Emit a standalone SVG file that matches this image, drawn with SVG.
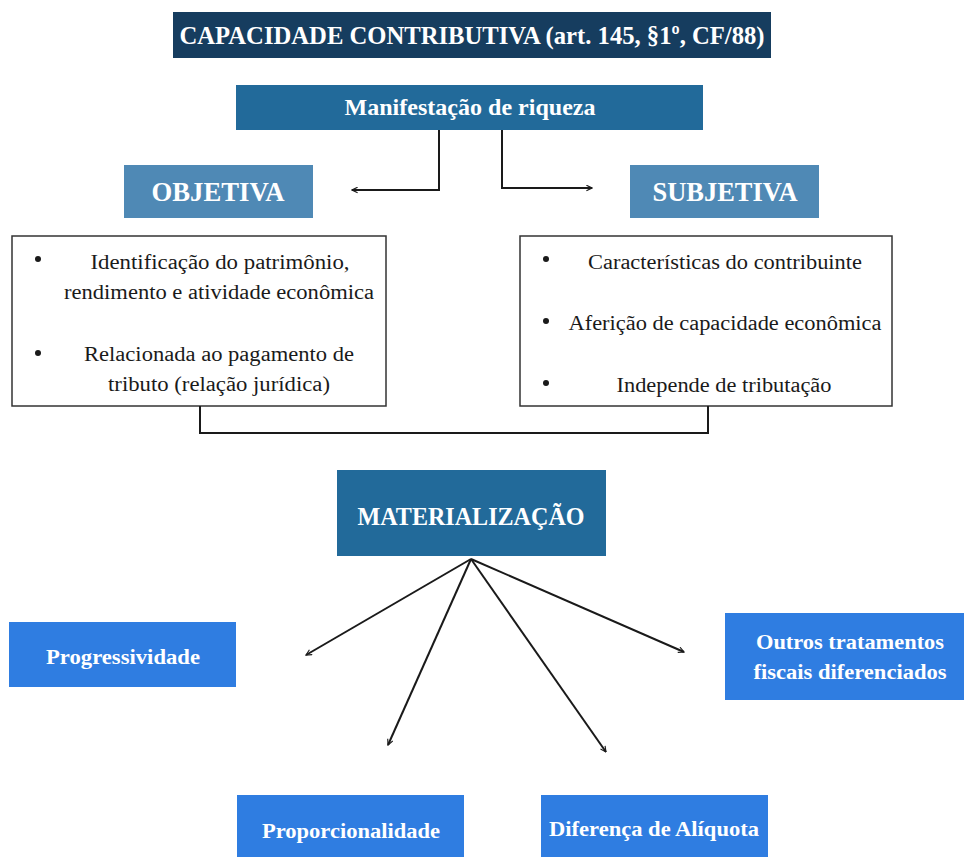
<svg xmlns="http://www.w3.org/2000/svg" width="964" height="857" viewBox="0 0 964 857">
<defs>
<style>
text{font-family:'Liberation Serif',serif;}
.hd{font-weight:bold;fill:#ffffff;}
.bd{fill:#1a1a1a;font-size:20px;}
.ln{fill:none;stroke:#1a1a1a;stroke-width:2;}
.box{fill:#ffffff;stroke:#333333;stroke-width:1.5;}
</style>
<marker id="ah" viewBox="0 0 10 10" refX="9" refY="5" markerWidth="7" markerHeight="7" markerUnits="userSpaceOnUse" orient="auto">
<path d="M1,1 L9,5 L1,9" fill="none" stroke="#1a1a1a" stroke-width="1.6"/>
</marker>
</defs>
<rect width="964" height="857" fill="#ffffff"/>
<g id="title">
<rect x="173" y="12" width="598" height="46" fill="#163d5f"/>
<text class="hd" x="472" y="44" font-size="26" text-anchor="middle" textLength="585" lengthAdjust="spacingAndGlyphs">CAPACIDADE CONTRIBUTIVA (art. 145, §1º, CF/88)</text>
</g>
<g id="manifestacao">
<rect x="236" y="85" width="467" height="45" fill="#226a9a"/>
<text class="hd" x="470" y="115" font-size="23" text-anchor="middle" textLength="251" lengthAdjust="spacingAndGlyphs">Manifestação de riqueza</text>
</g>
<g id="objetiva">
<rect x="124" y="165" width="189" height="53" fill="#4f89b5"/>
<text class="hd" x="218" y="201" font-size="27" text-anchor="middle" textLength="133" lengthAdjust="spacingAndGlyphs">OBJETIVA</text>
</g>
<g id="subjetiva">
<rect x="630" y="165" width="189" height="53" fill="#4f89b5"/>
<text class="hd" x="725" y="201" font-size="27" text-anchor="middle" textLength="145" lengthAdjust="spacingAndGlyphs">SUBJETIVA</text>
</g>
<g id="objetiva-list">
<rect class="box" x="12" y="236" width="374" height="170"/>
<circle cx="38" cy="259" r="3" fill="#1a1a1a"/>
<circle cx="38" cy="353" r="3" fill="#1a1a1a"/>
<text class="bd" x="220" y="269" text-anchor="middle" textLength="259" lengthAdjust="spacingAndGlyphs">Identificação do patrimônio,</text>
<text class="bd" x="219" y="299" text-anchor="middle" textLength="310" lengthAdjust="spacingAndGlyphs">rendimento e atividade econômica</text>
<text class="bd" x="219" y="361" text-anchor="middle" textLength="270" lengthAdjust="spacingAndGlyphs">Relacionada ao pagamento de</text>
<text class="bd" x="219" y="391" text-anchor="middle" textLength="222" lengthAdjust="spacingAndGlyphs">tributo (relação jurídica)</text>
</g>
<g id="subjetiva-list">
<rect class="box" x="520" y="236" width="372" height="170"/>
<circle cx="546" cy="259" r="3" fill="#1a1a1a"/>
<circle cx="546" cy="321" r="3" fill="#1a1a1a"/>
<circle cx="546" cy="383" r="3" fill="#1a1a1a"/>
<text class="bd" x="725" y="269" text-anchor="middle" textLength="274" lengthAdjust="spacingAndGlyphs">Características do contribuinte</text>
<text class="bd" x="725" y="330" text-anchor="middle" textLength="313" lengthAdjust="spacingAndGlyphs">Aferição de capacidade econômica</text>
<text class="bd" x="724" y="392" text-anchor="middle" textLength="215" lengthAdjust="spacingAndGlyphs">Independe de tributação</text>
</g>
<g id="materializacao">
<rect x="337" y="470" width="269" height="86" fill="#226a9a"/>
<text class="hd" x="471" y="525" font-size="25" text-anchor="middle" textLength="227" lengthAdjust="spacingAndGlyphs">MATERIALIZAÇÃO</text>
</g>
<g id="progressividade">
<rect x="9" y="622" width="227" height="65" fill="#2f7de1"/>
<text class="hd" x="123" y="664" font-size="21" text-anchor="middle" textLength="154" lengthAdjust="spacingAndGlyphs">Progressividade</text>
</g>
<g id="outros">
<rect x="725" y="613" width="239" height="87" fill="#2f7de1"/>
<text class="hd" x="850" y="649" font-size="21" text-anchor="middle" textLength="188" lengthAdjust="spacingAndGlyphs">Outros tratamentos</text>
<text class="hd" x="850" y="679" font-size="21" text-anchor="middle" textLength="193" lengthAdjust="spacingAndGlyphs">fiscais diferenciados</text>
</g>
<g id="proporcionalidade">
<rect x="237" y="795" width="227" height="62" fill="#2f7de1"/>
<text class="hd" x="351" y="838" font-size="21" text-anchor="middle" textLength="178" lengthAdjust="spacingAndGlyphs">Proporcionalidade</text>
</g>
<g id="diferenca">
<rect x="541" y="795" width="227" height="62" fill="#2f7de1"/>
<text class="hd" x="654" y="836" font-size="21" text-anchor="middle" textLength="210" lengthAdjust="spacingAndGlyphs">Diferença de Alíquota</text>
</g>
<g id="connectors">
<path class="ln" d="M439,130 V190 H352" marker-end="url(#ah)"/>
<path class="ln" d="M502,130 V188 H592" marker-end="url(#ah)"/>
<path class="ln" d="M200,406 V433 H708 V406"/>
<path class="ln" d="M471,559 L306,655" marker-end="url(#ah)"/>
<path class="ln" d="M471,559 L388,745" marker-end="url(#ah)"/>
<path class="ln" d="M471,559 L606,752" marker-end="url(#ah)"/>
<path class="ln" d="M471,559 L684,652" marker-end="url(#ah)"/>
</g>
</svg>
